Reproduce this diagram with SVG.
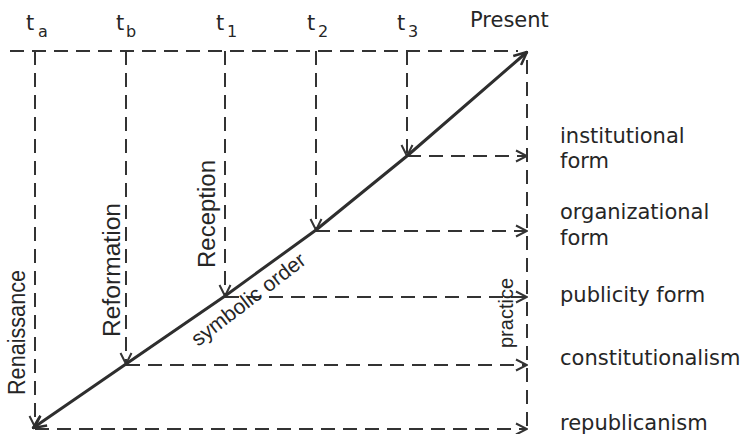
<svg xmlns="http://www.w3.org/2000/svg" width="748" height="434" viewBox="0 0 748 434">
  <style>
    .dash { fill: none; stroke: #333; stroke-width: 2; stroke-dasharray: 14 8; }
    .solid { fill: none; stroke: #2e2e2e; stroke-width: 3; stroke-linejoin: round; }
    .lbl { font-family: "DejaVu Sans", sans-serif; font-size: 21px; fill: #262626; }
    .sub { font-family: "DejaVu Sans", sans-serif; font-size: 16px; fill: #262626; }
    .rot { font-family: "Liberation Sans", Arial, sans-serif; font-size: 23px; fill: #262626; }
  </style>
  <defs>
    <marker id="ah" viewBox="-1 -7 13 14" refX="11" refY="0" markerWidth="13" markerHeight="14" markerUnits="userSpaceOnUse" orient="auto-start-reverse">
      <path d="M0,-5.5 L11,0 L0,5.5" fill="none" stroke="#333" stroke-width="2"/>
    </marker>
    <marker id="ah2" viewBox="-1 -7 15 14" refX="13" refY="0" markerWidth="15" markerHeight="14" markerUnits="userSpaceOnUse" orient="auto-start-reverse">
      <path d="M0,-6 L13,0 L0,6" fill="none" stroke="#2e2e2e" stroke-width="2.5"/>
    </marker>
  </defs>

  <g id="connectors">
    <!-- top time axis -->
    <path class="dash" d="M10,51 L518,51"/>
    <!-- right practice line -->
    <path class="dash" d="M527,60 L527,432"/>
    <!-- vertical drops -->
    <path class="dash" d="M35,51 L35,427" marker-end="url(#ah)"/>
    <path class="dash" d="M126,51 L126,364" marker-end="url(#ah)"/>
    <path class="dash" d="M225,51 L225,296" marker-end="url(#ah)"/>
    <path class="dash" d="M316,51 L316,230" marker-end="url(#ah)"/>
    <path class="dash" d="M407,51 L407,156" marker-end="url(#ah)"/>
    <!-- horizontal arrows -->
    <path class="dash" d="M407,156 L527,156" marker-end="url(#ah)"/>
    <path class="dash" d="M316,231 L527,231" marker-end="url(#ah)"/>
    <path class="dash" d="M225,297 L527,297" marker-end="url(#ah)"/>
    <path class="dash" d="M126,365 L527,365" marker-end="url(#ah)"/>
    <path class="dash" d="M35,429 L527,429" marker-end="url(#ah)"/>
    <!-- symbolic order diagonal -->
    <path class="solid" d="M527,52 L407,156 L316,230 L225,296 L126,364 L33,428" marker-start="url(#ah2)" marker-end="url(#ah2)"/>
  </g>

  <g id="time-labels">
    <g id="ta"><text class="lbl" x="26" y="30">t</text><text class="sub" x="38" y="37">a</text></g>
    <g id="tb"><text class="lbl" x="116" y="30">t</text><text class="sub" x="126" y="37">b</text></g>
    <g id="t1"><text class="lbl" x="216" y="30">t</text><text class="sub" x="227" y="37">1</text></g>
    <g id="t2"><text class="lbl" x="307" y="30">t</text><text class="sub" x="318" y="37">2</text></g>
    <g id="t3"><text class="lbl" x="397" y="30">t</text><text class="sub" x="408" y="37">3</text></g>
    <g id="present"><text class="lbl" x="470" y="27">Present</text></g>
  </g>

  <g id="period-labels">
    <text class="rot" transform="translate(25,395) rotate(-90)" textLength="125" lengthAdjust="spacingAndGlyphs">Renaissance</text>
    <text class="rot" transform="translate(120,337) rotate(-90)" textLength="134" lengthAdjust="spacingAndGlyphs">Reformation</text>
    <text class="rot" transform="translate(215,268) rotate(-90)" textLength="108" lengthAdjust="spacingAndGlyphs">Reception</text>
    <text class="rot" transform="translate(513,348) rotate(-90)" style="font-size:20px" textLength="70" lengthAdjust="spacingAndGlyphs">practice</text>
    <text class="rot" transform="translate(198,347) rotate(-37.5)" style="font-size:21px" textLength="138" lengthAdjust="spacingAndGlyphs">symbolic order</text>
  </g>

  <g id="form-labels">
    <g id="institutional"><text class="lbl" x="560" y="143">institutional</text><text class="lbl" x="560" y="168">form</text></g>
    <g id="organizational"><text class="lbl" x="560" y="219">organizational</text><text class="lbl" x="560" y="245">form</text></g>
    <g id="publicity"><text class="lbl" x="560" y="302">publicity form</text></g>
    <g id="constitutionalism"><text class="lbl" x="560" y="365">constitutionalism</text></g>
    <g id="republicanism"><text class="lbl" x="560" y="430">republicanism</text></g>
  </g>
</svg>
